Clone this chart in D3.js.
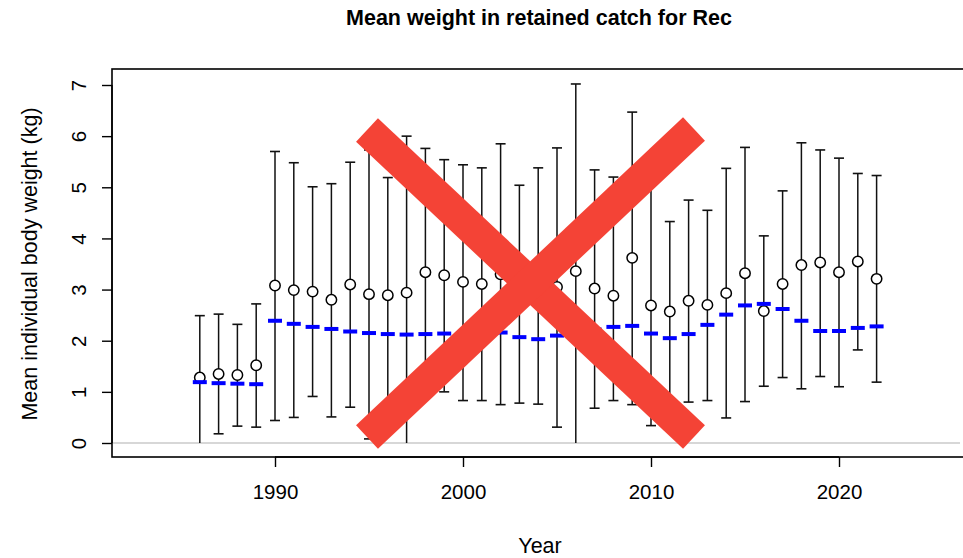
<!DOCTYPE html>
<html><head><meta charset="utf-8">
<script src="https://cdn.jsdelivr.net/npm/d3@7"></script>
<style>body{margin:0;background:#fff}svg{display:block;font-family:"Liberation Sans",Arial,sans-serif}</style>
</head><body>
<svg id="chart" width="963" height="558"></svg>
<script>
const years = d3.range(1986, 2023);
const meanWeight = [1.28,1.35,1.33,1.52,3.08,2.99,2.96,2.80,3.10,2.91,2.89,2.94,3.34,3.28,3.15,3.11,3.30,3.20,3.10,3.05,3.36,3.02,2.88,3.62,2.69,2.57,2.78,2.70,2.93,3.32,2.58,3.11,3.48,3.53,3.34,3.55,3.21];
const upperWeight = [2.49,2.52,2.32,2.72,5.70,5.48,5.01,5.07,5.49,5.73,5.19,6.00,5.76,5.54,5.44,5.38,5.85,5.04,5.38,5.77,7.02,5.34,5.20,6.47,5.04,4.33,4.75,4.55,5.37,5.78,4.05,4.93,5.87,5.73,5.57,5.27,5.23];
const lowerWeight = [0.00,0.18,0.33,0.31,0.44,0.50,0.91,0.51,0.70,0.08,0.45,0.00,0.89,1.00,0.83,0.83,0.75,0.78,0.76,0.31,0.00,0.68,0.83,0.75,0.34,0.35,0.80,0.83,0.49,0.81,1.11,1.28,1.06,1.30,1.10,1.82,1.19];
const expectedWeight = [1.19,1.17,1.16,1.15,2.39,2.33,2.27,2.23,2.18,2.15,2.13,2.12,2.13,2.14,2.15,2.16,2.16,2.07,2.03,2.10,2.18,2.22,2.27,2.29,2.14,2.05,2.13,2.31,2.51,2.69,2.72,2.62,2.39,2.19,2.19,2.25,2.28];
const xTicks = [1990, 2000, 2010, 2020];
const yTicks = [0,1,2,3,4,5,6,7];

const svg = d3.select("#chart");
const x = d3.scaleLinear().domain([1990, 2020]).range([275, 839]);
const y = d3.scaleLinear().domain([0, 7]).range([443, 85]);

const box = {l: 112, t: 69, r: 966, b: 457};

// title
svg.append("text").attr("x", 539).attr("y", 25).attr("text-anchor", "middle")
  .attr("font-weight", "bold").attr("font-size", 21.5).text("Mean weight in retained catch for Rec");

// zero line
svg.append("line").attr("x1", box.l + 1).attr("x2", 960).attr("y1", y(0)).attr("y2", y(0))
  .attr("stroke", "#b0b0b0").attr("stroke-width", 1.2);

// box
svg.append("rect").attr("x", box.l).attr("y", box.t).attr("width", box.r - box.l).attr("height", box.b - box.t)
  .attr("fill", "none").attr("stroke", "#000").attr("stroke-width", 1.6);

// y axis
const yAxis = d3.axisLeft(y).tickValues(yTicks).tickSize(10).tickPadding(14).tickFormat(d3.format("d"));
const gy = svg.append("g").attr("transform", `translate(${box.l},0)`).call(yAxis);
gy.select(".domain").attr("d", `M0,${y(0)}V${y(7)}`).attr("stroke-width", 1.4);
gy.selectAll(".tick line").attr("stroke-width", 1.4);
gy.selectAll(".tick text").attr("font-size", 20.5).attr("font-family", "Liberation Sans, Arial, sans-serif")
  .attr("fill", "#000").attr("text-anchor", "middle")
  .attr("x", 0).attr("y", 0)
  .attr("transform", "translate(-33,0) rotate(-90)").attr("dy", "0.35em");

// x axis
const xAxis = d3.axisBottom(x).tickValues(xTicks).tickSize(10).tickPadding(17).tickFormat(d3.format("d"));
const gx = svg.append("g").attr("transform", `translate(0,${box.b})`).call(xAxis);
gx.select(".domain").attr("stroke-width", 1.4).attr("d", `M${x(1990)},0H${x(2020)}`);
gx.selectAll(".tick line").attr("stroke-width", 1.4);
gx.selectAll(".tick text").attr("font-size", 20.5).attr("font-family", "Liberation Sans, Arial, sans-serif").attr("fill", "#000");

// axis titles
svg.append("text").attr("x", 540).attr("y", 553).attr("text-anchor", "middle").attr("font-size", 21.5).text("Year");
svg.append("text").attr("transform", `translate(37,${y(3.5)}) rotate(-90)`).attr("text-anchor", "middle")
  .attr("font-size", 21.5).text("Mean individual body weight (kg)");

const data = years.map((yr, i) => ({yr, m: meanWeight[i], lo: lowerWeight[i], hi: upperWeight[i], e: expectedWeight[i]}));

const g = svg.append("g");
g.selectAll(".bar").data(data).join("line")
  .attr("x1", d => x(d.yr)).attr("x2", d => x(d.yr)).attr("y1", d => y(d.lo)).attr("y2", d => y(d.hi))
  .attr("stroke", "#111").attr("stroke-width", 1.5);
g.selectAll(".capTop").data(data).join("line")
  .attr("x1", d => x(d.yr) - 5).attr("x2", d => x(d.yr) + 5).attr("y1", d => y(d.hi)).attr("y2", d => y(d.hi))
  .attr("stroke", "#111").attr("stroke-width", 1.6);
g.selectAll(".capBot").data(data.filter(d => d.lo > 0.02)).join("line")
  .attr("x1", d => x(d.yr) - 5).attr("x2", d => x(d.yr) + 5).attr("y1", d => y(d.lo)).attr("y2", d => y(d.lo))
  .attr("stroke", "#111").attr("stroke-width", 1.6);
g.selectAll("circle").data(data).join("circle")
  .attr("cx", d => x(d.yr)).attr("cy", d => y(d.m)).attr("r", 5.2)
  .attr("fill", "#fff").attr("stroke", "#000").attr("stroke-width", 1.5);
g.selectAll(".exp").data(data).join("line")
  .attr("x1", d => x(d.yr) - 7).attr("x2", d => x(d.yr) + 7).attr("y1", d => y(d.e)).attr("y2", d => y(d.e))
  .attr("stroke", "#0000ff").attr("stroke-width", 4);

// red cross overlay
const cross = [[[367,130],[694,437]], [[694,129],[367,437]]];
svg.append("g").selectAll("line").data(cross).join("line")
  .attr("x1", d => d[0][0]).attr("y1", d => d[0][1]).attr("x2", d => d[1][0]).attr("y2", d => d[1][1])
  .attr("stroke", "#f44336").attr("stroke-width", 32).attr("stroke-linecap", "butt");
</script>
</body></html>
